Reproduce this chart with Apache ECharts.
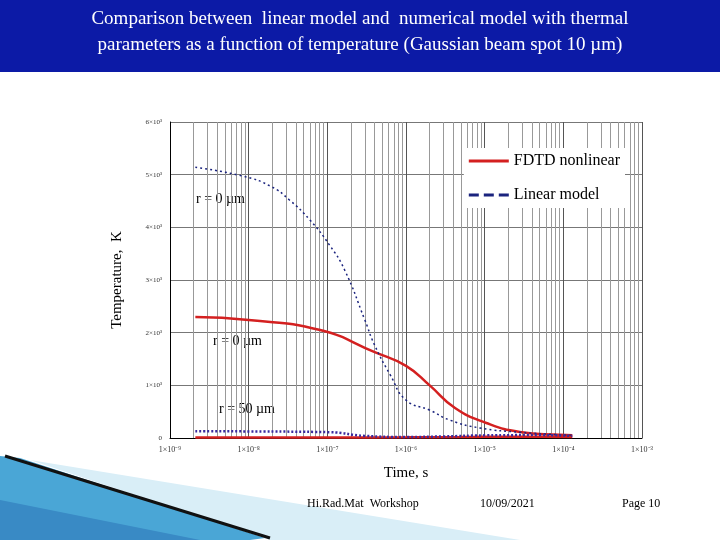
<!DOCTYPE html>
<html>
<head>
<meta charset="utf-8">
<script src="https://cdn.jsdelivr.net/npm/echarts@6/dist/echarts.min.js"></script>
<style>html,body{margin:0;padding:0;background:#fff}#main{width:720px;height:540px}</style>
</head>
<body>
<div id="main"></div>
<script>
// r = 0 um
let fdtdCenter = [[2.1e-9, 2296], [1e-8, 2240], [8.1e-8, 2050], [4e-7, 1630], [1e-6, 1370], [2e-6, 1000],
  [4.2e-6, 570], [1.05e-5, 285], [2.8e-5, 115], [9e-5, 60], [1.3e-4, 50]];
let linearCenter = [[2.1e-9, 5140], [8.5e-9, 4970], [1.9e-8, 4780], [3.3e-8, 4520], [6e-8, 4140], [1.07e-7, 3660],
  [1.66e-7, 3190], [3e-7, 2240], [4e-7, 1760], [6.3e-7, 1200], [1e-6, 720], [2e-6, 530], [3.6e-6, 340],
  [8.7e-6, 190], [2.8e-5, 110], [9e-5, 60], [1.3e-4, 50]];
// r = 50 um
let fdtdEdge = [[2.1e-9, 10], [1e-7, 10], [1e-6, 12], [5e-6, 18], [1e-5, 22], [5e-5, 25], [1.3e-4, 20]];
let linearEdge = [[2.1e-9, 130], [1e-8, 125], [1.07e-7, 110], [3e-7, 40], [1e-6, 20], [3e-6, 30],
  [1e-5, 50], [5e-5, 55], [1.3e-4, 40]];

let seriesNames = ['FDTD nonlinear', 'Linear model'];
let sup = {'-9': '⁻⁹', '-8': '⁻⁸', '-7': '⁻⁷', '-6': '⁻⁶', '-5': '⁻⁵', '-4': '⁻⁴', '-3': '⁻³'};

let chart = echarts.init(document.getElementById('main'));

let redStyle = { color: '#d42020', width: 2.5 };
let blueStyle = { color: '#1a237e', width: 1.5, type: [2, 3] };

let option = {
  animation: false,
  textStyle: { fontFamily: 'Liberation Serif' },
  grid: { left: 170, right: 78, top: 122, bottom: 102 },
  legend: {
    data: [
      { name: seriesNames[0], icon: 'path://M0,0H40V3H0Z', itemStyle: { color: '#d42020' } },
      { name: seriesNames[1], icon: 'path://M0,0H10V3H0ZM15,0H25V3H15ZM30,0H40V3H30Z', itemStyle: { color: '#1a237e' } }
    ],
    orient: 'vertical',
    right: 95,
    top: 148,
    itemWidth: 40,
    itemHeight: 3,
    itemGap: 18,
    textStyle: { fontSize: 16, color: '#000', fontFamily: 'Liberation Serif' },
    backgroundColor: '#fff'
  },
  xAxis: {
    type: 'log',
    min: 1e-9,
    max: 1e-3,
    logBase: 10,
    name: 'Time, s',
    nameLocation: 'middle',
    nameGap: 28,
    nameTextStyle: { fontSize: 15, color: '#000' },
    axisLine: { lineStyle: { color: '#000' } },
    axisTick: { show: false },
    axisLabel: {
      fontSize: 8, color: '#333',
      formatter: function (v) {
        let e = Math.round(Math.log10(v));
        return '1×10' + (sup[e] || e);
      }
    },
    splitLine: { show: true, lineStyle: { color: '#555' } },
    minorTick: { show: false, splitNumber: 9 },
    minorSplitLine: { show: true, lineStyle: { color: '#999' } }
  },
  yAxis: {
    type: 'value',
    min: 0,
    max: 6000,
    interval: 1000,
    name: 'Temperature,  K',
    nameLocation: 'middle',
    nameGap: 45,
    nameTextStyle: { fontSize: 15, color: '#000' },
    axisLine: { show: true, lineStyle: { color: '#000' } },
    axisTick: { show: false },
    axisLabel: {
      fontSize: 7, color: '#333',
      formatter: function (v) { return v === 0 ? '0' : (v / 1000) + '×10³'; }
    },
    splitLine: { lineStyle: { color: '#777' } }
  },
  series: [
    { name: seriesNames[0], type: 'line', data: fdtdCenter, smooth: true, showSymbol: false, lineStyle: redStyle, itemStyle: { color: '#d42020' } },
    { name: seriesNames[1], type: 'line', data: linearCenter, smooth: true, showSymbol: false, lineStyle: blueStyle, itemStyle: { color: '#1a237e' } },
    { name: seriesNames[0], type: 'line', data: fdtdEdge, smooth: true, showSymbol: false, lineStyle: redStyle },
    { name: seriesNames[1], type: 'line', data: linearEdge, smooth: true, showSymbol: false, lineStyle: { color: '#3a2a9e', width: 2.5, type: [2, 2] } }
  ],
  graphic: [
    { type: 'rect', shape: { x: 0, y: 0, width: 720, height: 72 }, style: { fill: '#0c1aa6' } },
    { type: 'text', x: 360, y: 6, style: { text: 'Comparison between  linear model and  numerical model with thermal\nparameters as a function of temperature (Gaussian beam spot 10 µm)', fill: '#fff', font: '19px "Liberation Serif"', align: 'center', lineHeight: 26 } },
    { type: 'text', x: 196, y: 192, style: { text: 'r = 0 µm', fill: '#000', font: '14px "Liberation Serif"' } },
    { type: 'text', x: 213, y: 334, style: { text: 'r = 0 µm', fill: '#000', font: '14px "Liberation Serif"' } },
    { type: 'text', x: 219, y: 402, style: { text: 'r = 50 µm', fill: '#000', font: '14px "Liberation Serif"' } },
    { type: 'polygon', shape: { points: [[30, 460], [520, 540], [270, 540]] }, style: { fill: '#d9eef7' } },
    { type: 'polygon', shape: { points: [[0, 456], [20, 458], [265, 538], [250, 540], [0, 540]] }, style: { fill: '#4aa6d6' } },
    { type: 'polygon', shape: { points: [[0, 500], [200, 540], [0, 540]] }, style: { fill: 'rgba(40,110,180,0.5)' } },
    { type: 'polyline', shape: { points: [[5, 456], [270, 538]] }, style: { stroke: '#111', lineWidth: 3 } },
    { type: 'text', x: 307, y: 498, style: { text: 'Hi.Rad.Mat  Workshop', fill: '#000', font: '12px "Liberation Serif"' } },
    { type: 'text', x: 480, y: 498, style: { text: '10/09/2021', fill: '#000', font: '12px "Liberation Serif"' } },
    { type: 'text', x: 622, y: 498, style: { text: 'Page 10', fill: '#000', font: '12px "Liberation Serif"' } }
  ]
};

chart.setOption(option);
</script>
</body>
</html>
